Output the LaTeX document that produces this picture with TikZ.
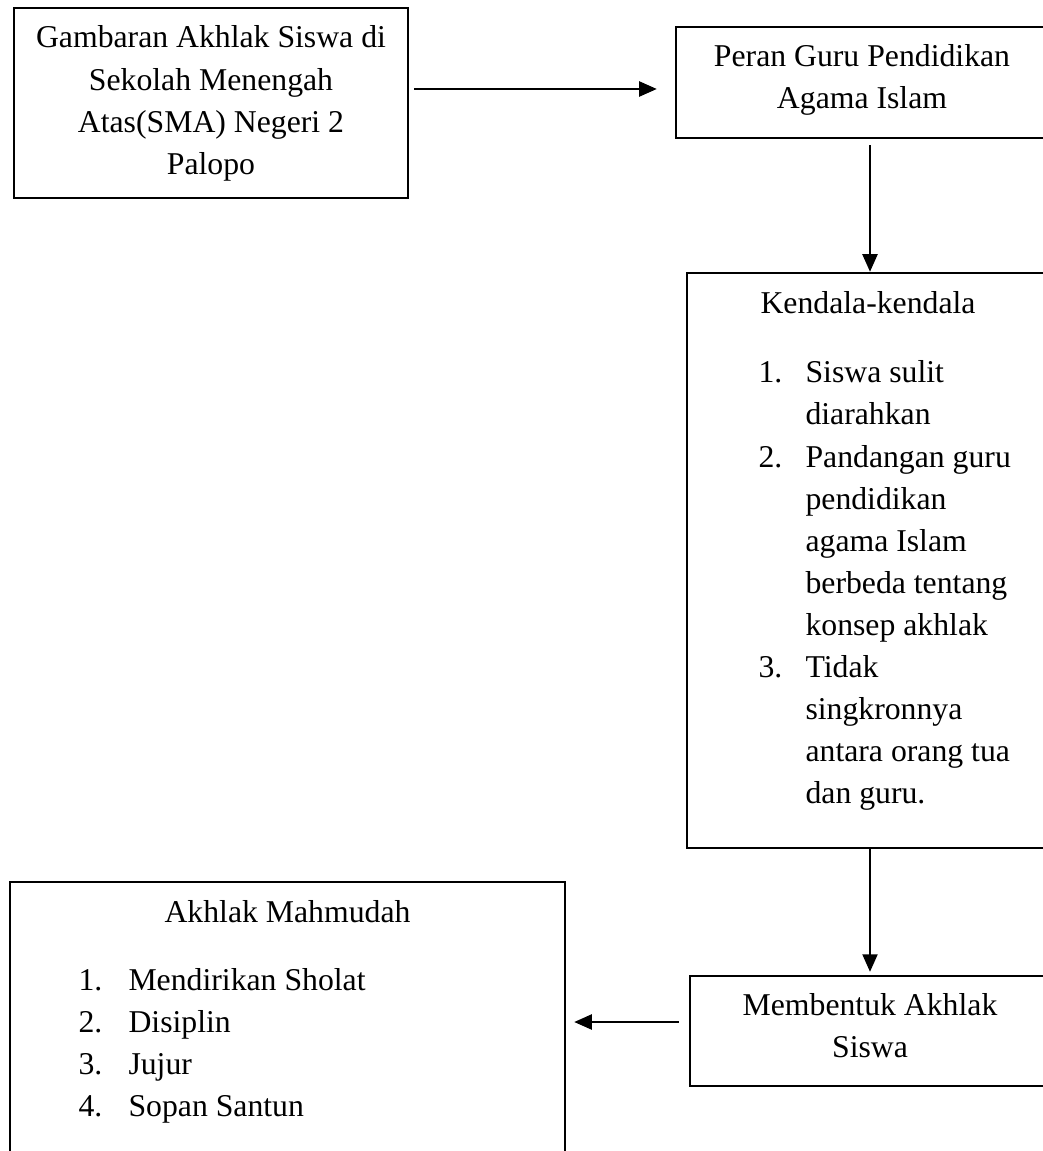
\documentclass[tikz,border=0pt]{standalone}
\usepackage{fontspec}
\setmainfont{Liberation Serif}
\usetikzlibrary{arrows.meta,fit}
\begin{document}
\begin{tikzpicture}[x=0.375pt,y=-0.375pt,
  box/.style={draw, line width=0.9pt, inner sep=0pt},
  txt/.style={anchor=base, inner sep=0pt, font=\fontsize{11.9}{15.75}\selectfont},
  ltxt/.style={txt, anchor=base west},
  arr/.style={line width=0.9pt, -{Triangle[length=6.6pt,width=5.6pt]}}]
\useasboundingbox (0,0) rectangle (1043,1151);
\clip (0,0) rectangle (1043,1151);
\fill[white] (0,0) rectangle (1043,1151);
% boxes
\node[box, fit={(14,8)(408,198)}] (b1) {};
\node[box, fit={(676,27)(1048,138)}] (b2) {};
\node[box, fit={(687,273)(1048,848)}] (b3) {};
\node[box, fit={(690,976)(1048,1086)}] (b4) {};
\node[box, fit={(10,882)(565,1165)}] (b5) {};
% box 1 text
\node[txt] (t1a) at (211,48) {Gambaran Akhlak Siswa di};
\node[txt] (t1b) at (211,90.5) {Sekolah Menengah};
\node[txt] (t1c) at (211,132.5) {Atas(SMA) Negeri 2};
\node[txt] (t1d) at (211,174.5) {Palopo};
% box 2 text
\node[txt] (t2a) at (862,67) {Peran Guru Pendidikan};
\node[txt] (t2b) at (862,108.5) {Agama Islam};
% box 3 text
\node[txt] (t3h) at (868,313) {Kendala-kendala};
\node[ltxt] (k1n) at (758,382) {1.};
\node[ltxt] (k1a) at (805,382) {Siswa sulit};
\node[ltxt] (k1b) at (805,424.5) {diarahkan};
\node[ltxt] (k2n) at (758,467) {2.};
\node[ltxt] (k2a) at (805,467) {Pandangan guru};
\node[ltxt] (k2b) at (805,509) {pendidikan};
\node[ltxt] (k2c) at (805,551) {agama Islam};
\node[ltxt] (k2d) at (805,593) {berbeda tentang};
\node[ltxt] (k2e) at (805,635) {konsep akhlak};
\node[ltxt] (k3n) at (758,677) {3.};
\node[ltxt] (k3a) at (805,677) {Tidak};
\node[ltxt] (k3b) at (805,719) {singkronnya};
\node[ltxt] (k3c) at (805,761) {antara orang tua};
\node[ltxt] (k3d) at (805,803) {dan guru.};
% box 4 text
\node[txt] (t4a) at (870,1015.5) {Membentuk Akhlak};
\node[txt] (t4b) at (870,1057) {Siswa};
% box 5 text
\node[txt] (t5h) at (287.5,922) {Akhlak Mahmudah};
\node[ltxt] (m1n) at (78,990.5) {1.};
\node[ltxt] (m1) at (128,990.5) {Mendirikan Sholat};
\node[ltxt] (m2n) at (78,1032.5) {2.};
\node[ltxt] (m2) at (128,1032.5) {Disiplin};
\node[ltxt] (m3n) at (78,1074.5) {3.};
\node[ltxt] (m3) at (128,1074.5) {Jujur};
\node[ltxt] (m4n) at (78,1116.5) {4.};
\node[ltxt] (m4) at (128,1116.5) {Sopan Santun};
% connectors
\coordinate (ay1) at (0,89);
\coordinate (ax) at (870,0);
\coordinate (ay4) at (0,1022);
\draw[arr, shorten <=1.875pt, shorten >=6.75pt] (b1.east |- ay1) -- (b2.west |- ay1);
\draw[arr, shorten <=2.25pt] (b2.south -| ax) -- (b3.north -| ax);
\draw[arr, shorten >=1.1pt] (b3.south -| ax) -- (b4.north -| ax);
\draw[arr, shorten <=3.75pt, shorten >=3pt] (b4.west |- ay4) -- (b5.east |- ay4);
\end{tikzpicture}
\end{document}
